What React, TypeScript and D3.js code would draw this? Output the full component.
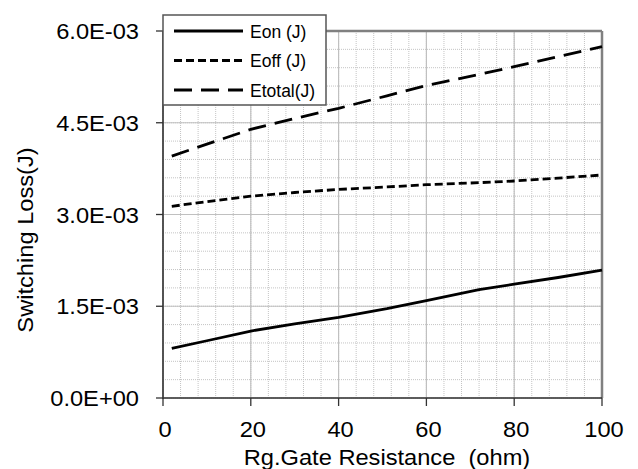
import React from "react";
import * as d3 from "d3";

const resistance = [2, 10, 20, 30, 40, 51, 60, 72, 80, 90, 100];
const eon = [0.81e-3, 0.936e-3, 1.095e-3, 1.21e-3, 1.32e-3, 1.46e-3, 1.59e-3, 1.77e-3, 1.86e-3, 1.97e-3, 2.09e-3];
const eoff = [3.134e-3, 3.21e-3, 3.30e-3, 3.36e-3, 3.41e-3, 3.45e-3, 3.487e-3, 3.52e-3, 3.548e-3, 3.595e-3, 3.646e-3];
const etotal = [3.955e-3, 4.15e-3, 4.393e-3, 4.57e-3, 4.736e-3, 4.94e-3, 5.11e-3, 5.29e-3, 5.416e-3, 5.58e-3, 5.743e-3];
const xTicks = [0, 20, 40, 60, 80, 100];
const yTicks = [0, 1.5e-3, 3.0e-3, 4.5e-3, 6.0e-3];
const yTickLabels = ["0.0E+00", "1.5E-03", "3.0E-03", "4.5E-03", "6.0E-03"];
const seriesNames = ["Eon (J)", "Eoff (J)", "Etotal(J)"];
const seriesDash = ["none", "8,4", "18,9"];

const W = 638, H = 469;
const L = 163, R = 602, T = 31, B = 398;
const FONT = "'Liberation Sans', Arial, sans-serif";
const SX = 1.1;

export default function App() {
  const x = d3.scaleLinear().domain([0, 100]).range([L, R]);
  const y = d3.scaleLinear().domain([0, 6e-3]).range([B, T]);
  const line = d3.line<[number, number]>().x(d => x(d[0])).y(d => y(d[1]));
  const series = [eon, eoff, etotal];
  const xMinor = d3.range(0, 101, 4);
  const yMinor = d3.range(0, 21).map(i => i * 0.3e-3);

  return (
    <svg width={W} height={H} style={{ position: "absolute", left: 0, top: 0, background: "#fff" }} fontFamily={FONT}>
      <rect x={0} y={0} width={W} height={H} fill="#fff" />
      {xMinor.map((v, i) => (
        <line key={"xm" + i} x1={x(v)} x2={x(v)} y1={T} y2={B} stroke="#c4c4c4" strokeWidth={1} strokeDasharray="1,1" />
      ))}
      {yMinor.map((v, i) => (
        <line key={"ym" + i} x1={L} x2={R} y1={y(v)} y2={y(v)} stroke="#c4c4c4" strokeWidth={1} strokeDasharray="1,1" />
      ))}
      {xTicks.map((v, i) => (
        <line key={"xg" + i} x1={x(v)} x2={x(v)} y1={T} y2={B} stroke="#c0c0c0" strokeWidth={1.2} />
      ))}
      {yTicks.map((v, i) => (
        <line key={"yg" + i} x1={L} x2={R} y1={y(v)} y2={y(v)} stroke="#c0c0c0" strokeWidth={1.2} />
      ))}
      <line x1={L} x2={R} y1={T} y2={T} stroke="#808080" strokeWidth={2.5} />
      <line x1={R} x2={R} y1={T} y2={B} stroke="#808080" strokeWidth={2.5} />
      <line x1={L} x2={L} y1={T} y2={B + 1} stroke="#333" strokeWidth={1.6} />
      <line x1={L} x2={R} y1={B} y2={B} stroke="#333" strokeWidth={1.6} />
      {yTicks.map((v, i) => (
        <line key={"yt" + i} x1={L - 7} x2={L} y1={y(v)} y2={y(v)} stroke="#333" strokeWidth={1.3} />
      ))}
      {xTicks.map((v, i) => (
        <line key={"xt" + i} x1={x(v)} x2={x(v)} y1={B} y2={B + 8} stroke="#333" strokeWidth={1.3} />
      ))}
      {yTicks.map((v, i) => (
        <g key={"yl" + i} transform={`translate(139,${y(v) + 8}) scale(${SX},1)`}>
          <text textAnchor="end" fontSize={21.5} fill="#000">{yTickLabels[i]}</text>
        </g>
      ))}
      {xTicks.map((v, i) => (
        <g key={"xl" + i} transform={`translate(${x(v) + 2},437) scale(${SX},1)`}>
          <text textAnchor="middle" fontSize={21.5} fill="#000">{v}</text>
        </g>
      ))}
      <g transform={`translate(387,465) scale(${SX},1)`}>
        <text textAnchor="middle" fontSize={21.5} fill="#000" style={{ whiteSpace: "pre" }}>{"Rg.Gate Resistance  (ohm)"}</text>
      </g>
      <g transform={`translate(33,240) rotate(-90) scale(${SX},1)`}>
        <text textAnchor="middle" fontSize={21.5} fill="#000">Switching Loss(J)</text>
      </g>
      {series.map((s, i) => (
        <path key={"s" + i} d={line(resistance.map((r, j) => [r, s[j]] as [number, number])) || ""}
          fill="none" stroke="#000" strokeWidth={2.8} strokeDasharray={seriesDash[i]} />
      ))}
      <rect x={163} y={15} width={163} height={90} fill="#fff" stroke="#555" strokeWidth={1.5} />
      {seriesNames.map((n, i) => {
        const cy = 31 + i * 29.5;
        return (
          <g key={"lg" + i}>
            <line x1={174} x2={243} y1={cy} y2={cy} stroke="#000" strokeWidth={2.8} strokeDasharray={seriesDash[i]} />
            <text x={250} y={cy + 6.5} fontSize={17.5} fill="#000">{n}</text>
          </g>
        );
      })}
    </svg>
  );
}
